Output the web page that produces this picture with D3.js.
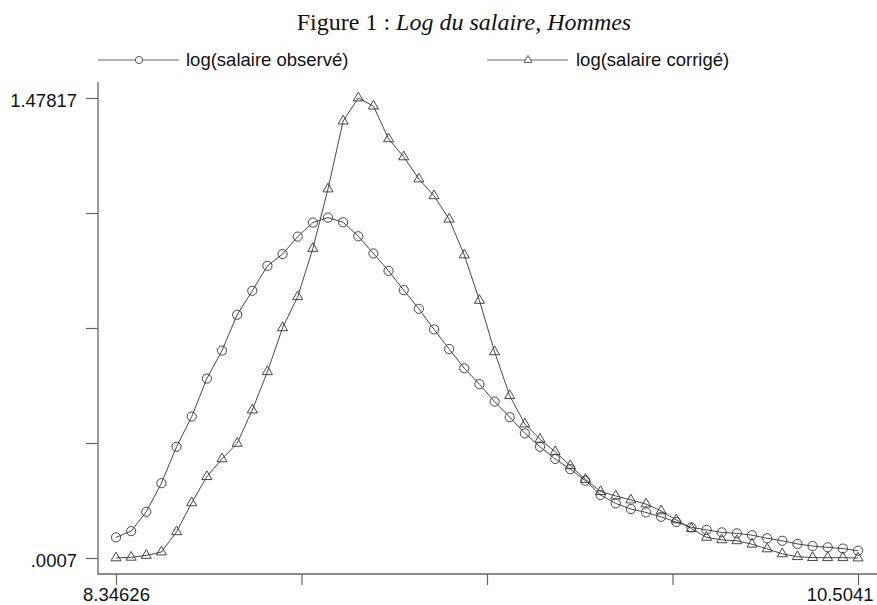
<!DOCTYPE html>
<html><head><meta charset="utf-8">
<script src="https://cdn.jsdelivr.net/npm/d3@7"></script>
<style>body{margin:0;background:#fff}</style>
</head><body><svg id="c" width="877" height="605"></svg>
<script>
const xValues = [8.3463,8.3903,8.4343,8.4784,8.5224,8.5665,8.6105,8.6545,8.6986,8.7426,
  8.7866,8.8307,8.8747,8.9188,8.9628,9.0068,9.0509,9.0949,9.1389,9.1830,
  9.2270,9.2711,9.3151,9.3591,9.4032,9.4472,9.4912,9.5353,9.5793,9.6234,
  9.6674,9.7114,9.7555,9.7995,9.8435,9.8876,9.9316,9.9757,10.0197,10.0637,
  10.1078,10.1518,10.1958,10.2399,10.2839,10.3280,10.3720,10.4160,10.4601,10.5041];
const observe = [0.067,0.087,0.149,0.241,0.358,0.455,0.577,0.667,0.782,0.859,
  0.939,0.977,1.033,1.078,1.094,1.079,1.034,0.979,0.923,0.861,
  0.801,0.735,0.672,0.610,0.559,0.503,0.453,0.401,0.358,0.319,
  0.286,0.249,0.203,0.176,0.158,0.147,0.133,0.116,0.099,0.091,
  0.083,0.080,0.074,0.064,0.056,0.046,0.039,0.035,0.031,0.024];
const corrige = [0.001,0.003,0.009,0.020,0.085,0.178,0.262,0.319,0.369,0.476,
  0.599,0.740,0.840,0.995,1.186,1.404,1.47817,1.452,1.347,1.289,
  1.218,1.164,1.089,0.974,0.828,0.663,0.522,0.431,0.382,0.342,
  0.297,0.253,0.214,0.200,0.187,0.174,0.152,0.123,0.095,0.067,
  0.059,0.056,0.045,0.030,0.014,0.005,0.002,0.0017,0.0017,0.0007];
const xTicks = [8.34626, 8.88572, 9.42518, 9.96464, 10.5041];
const xTickLabels = ["8.34626", "", "", "", "10.5041"];
const yTicks = [0.0007, 0.3700675, 0.739435, 1.1088025, 1.47817];
const yTickLabels = [".0007", "", "", "", "1.47817"];
const seriesNames = ["log(salaire observé)", "log(salaire corrigé)"];

const svg = d3.select("#c");
const x = d3.scaleLinear().domain([8.34626, 10.5041]).range([116, 858]);
const y = d3.scaleLinear().domain([0.0007, 1.47817]).range([558, 98]);
const axisCol = "#666", lineCol = "#333";
const sans = "'Liberation Sans', Arimo, Helvetica, Arial, sans-serif";

// title
const title = svg.append("text").attr("x", 464).attr("y", 30).attr("text-anchor", "middle")
  .style("font-family", "'Liberation Serif', 'DejaVu Serif', serif").style("font-size", "24px").attr("fill", "#111");
title.append("tspan").text("Figure 1 : ");
title.append("tspan").style("font-style", "italic").text("Log du salaire, Hommes");

// axes lines
svg.append("line").attr("x1", 98).attr("x2", 98).attr("y1", 82).attr("y2", 574.5).attr("stroke", axisCol).attr("stroke-width", 1.3);
svg.append("line").attr("x1", 97.5).attr("x2", 877).attr("y1", 574).attr("y2", 574).attr("stroke", axisCol).attr("stroke-width", 1.3);

const yAxis = svg.append("g").attr("transform", "translate(98,0)")
  .call(d3.axisLeft(y).tickValues(yTicks).tickSize(12).tickPadding(9).tickFormat((d, i) => yTickLabels[i]));
yAxis.select(".domain").remove();
yAxis.selectAll("line").attr("stroke", axisCol).attr("stroke-width", 1.2);
yAxis.selectAll("text").attr("dy", "0.45em").style("font-family", sans).style("font-size", "18.5px").attr("fill", "#111");

const xAxis = svg.append("g").attr("transform", "translate(0,574)")
  .call(d3.axisBottom(x).tickValues(xTicks).tickSize(11).tickPadding(3).tickFormat((d, i) => xTickLabels[i]));
xAxis.select(".domain").remove();
xAxis.selectAll("line").attr("stroke", axisCol).attr("stroke-width", 1.2);
xAxis.selectAll("text").style("font-family", sans).style("font-size", "18.5px").attr("fill", "#111");
xAxis.selectAll("text").filter((d, i) => i === xTicks.length - 1).attr("text-anchor", "end").attr("x", 15);

// series
const line = d3.line().x((d, i) => x(xValues[i])).y(d => y(d));
svg.append("path").datum(observe).attr("d", line).attr("fill", "none").attr("stroke", lineCol).attr("stroke-width", 0.9);
svg.append("path").datum(corrige).attr("d", line).attr("fill", "none").attr("stroke", lineCol).attr("stroke-width", 0.9);

svg.append("g").selectAll("circle").data(observe).join("circle")
  .attr("cx", (d, i) => x(xValues[i])).attr("cy", d => y(d)).attr("r", 4.6)
  .attr("fill", "none").attr("stroke", lineCol).attr("stroke-width", 0.9);
const tri = d3.symbol().type(d3.symbolTriangle).size(44);
svg.append("g").selectAll("path").data(corrige).join("path")
  .attr("transform", (d, i) => `translate(${x(xValues[i])},${y(d)})`).attr("d", tri)
  .attr("fill", "none").attr("stroke", lineCol).attr("stroke-width", 0.9);

// legend
const leg = [{x1: 98, x2: 179, mx: 139, tx: 186, sym: "c"}, {x1: 487, x2: 568, mx: 528, tx: 576, sym: "t"}];
leg.forEach((l, i) => {
  svg.append("line").attr("x1", l.x1).attr("x2", l.x2).attr("y1", 60).attr("y2", 60).attr("stroke", "#999").attr("stroke-width", 1.3);
  if (l.sym === "c") {
    svg.append("circle").attr("cx", l.mx).attr("cy", 60).attr("r", 3.6).attr("fill", "#fff").attr("stroke", "#555").attr("stroke-width", 1);
  } else {
    svg.append("path").attr("transform", `translate(${l.mx},60)`).attr("d", d3.symbol().type(d3.symbolTriangle).size(28)())
      .attr("fill", "#fff").attr("stroke", "#555").attr("stroke-width", 1);
  }
  svg.append("text").attr("x", l.tx).attr("y", 66).text(seriesNames[i])
    .style("font-family", sans).style("font-size", "18.5px").attr("fill", "#111");
});
</script></body></html>
